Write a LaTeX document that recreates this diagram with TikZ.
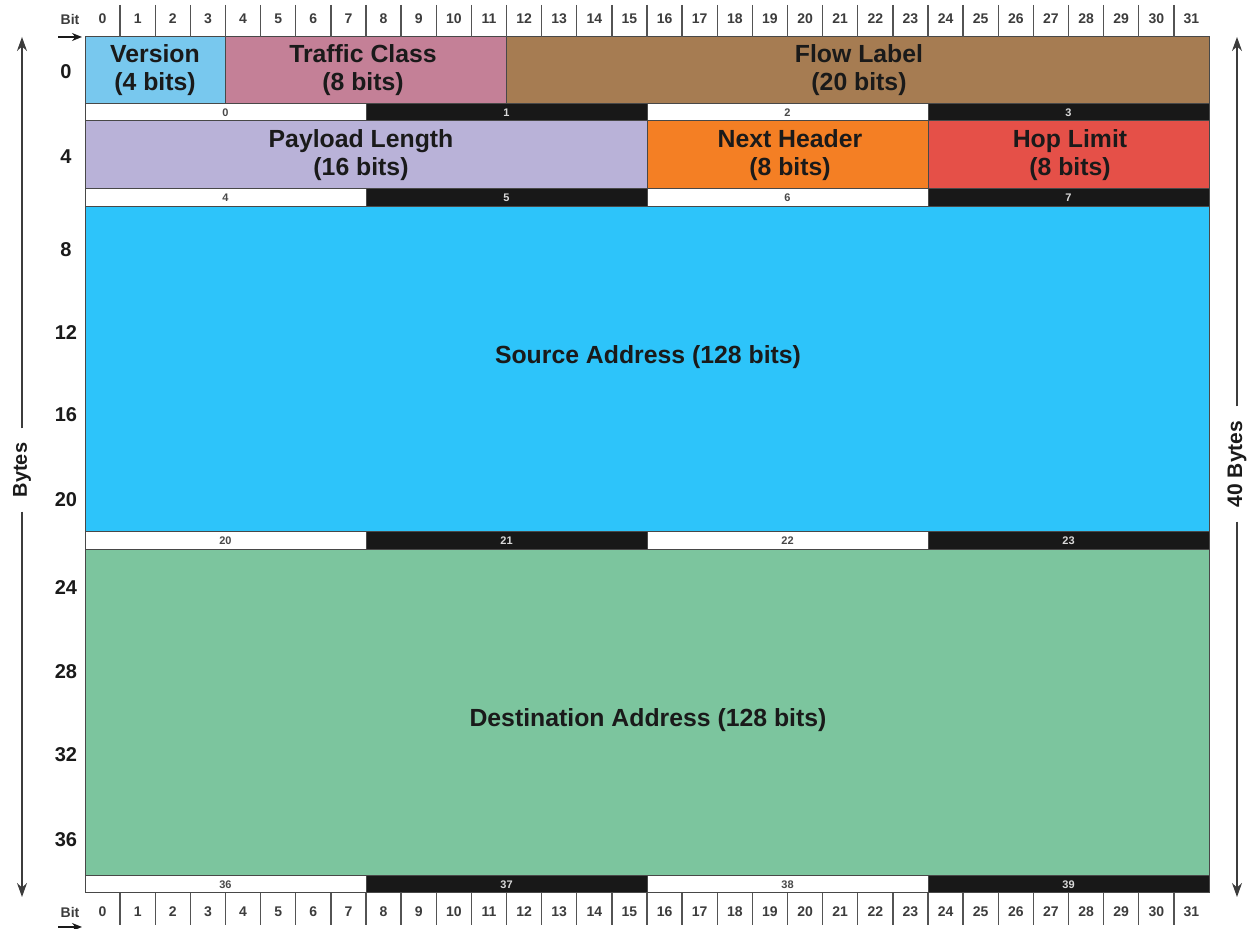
\documentclass[tikz,border=0pt]{standalone}
\usepackage{fontspec}
\setmainfont{Liberation Sans}
\usetikzlibrary{arrows.meta}
\definecolor{cVer}{RGB}{120,200,238}
\definecolor{cTC}{RGB}{196,128,151}
\definecolor{cFL}{RGB}{166,124,82}
\definecolor{cPL}{RGB}{185,178,216}
\definecolor{cNH}{RGB}{244,127,36}
\definecolor{cHL}{RGB}{229,80,72}
\definecolor{cSrc}{RGB}{45,196,250}
\definecolor{cDst}{RGB}{124,197,158}
\definecolor{cInk}{RGB}{26,26,26}
\definecolor{cBar}{RGB}{24,24,24}
\begin{document}
\begin{tikzpicture}[x=0.5pt,y=-0.5pt,
  field/.style={draw=cInk!80, line width=0.5pt},
  ftext/.style={font=\fontsize{12.4}{14}\selectfont\bfseries, text=cInk, align=center, inner sep=0pt},
  bitnum/.style={font=\fontsize{7}{8}\selectfont\bfseries, text=cInk!85, inner sep=0pt},
  tick/.style={draw=cInk!75, line width=0.7pt},
  barwhite/.style={draw=cInk!80, line width=0.5pt, fill=white},
  barblack/.style={draw=cInk!80, line width=0.5pt, fill=cBar},
  barlblw/.style={font=\fontsize{5.5}{6}\selectfont\bfseries, text=cInk!80, inner sep=0pt},
  barlblb/.style={font=\fontsize{5.5}{6}\selectfont\bfseries, text=white!85!black, inner sep=0pt},
  rowlbl/.style={font=\fontsize{10}{12}\selectfont\bfseries, text=cInk, inner sep=0pt},
  side/.style={font=\fontsize{10}{12}\selectfont\bfseries, text=cInk, rotate=90, inner xsep=7pt, inner ysep=2pt},
  sidearrow/.style={draw=cInk!85, line width=0.6pt, -{Stealth[length=7pt,width=5pt]}},
  bitarrow/.style={draw=cInk, line width=0.8pt, -{Stealth[length=5pt,width=4pt]}}
]
\useasboundingbox (0,0) rectangle (1250,929);

% ---- fields
\draw[field, fill=cVer] (85,37) rectangle (225.5,104);
\draw[field, fill=cTC] (225.5,37) rectangle (506.5,104);
\draw[field, fill=cFL] (506.5,37) rectangle (1209,104);
\draw[field, fill=cPL] (85,121) rectangle (647,189);
\draw[field, fill=cNH] (647,121) rectangle (928,189);
\draw[field, fill=cHL] (928,121) rectangle (1209,189);
\draw[field, fill=cSrc] (85,207) rectangle (1209,532);
\draw[field, fill=cDst] (85,550) rectangle (1209,876);

\node[ftext] (version) at (155,70) {Version\\(4 bits)};
\node[ftext] (tclass) at (363,70) {Traffic Class\\(8 bits)};
\node[ftext] (flow) at (859,70) {Flow Label\\(20 bits)};
\node[ftext] (payload) at (361,155) {Payload Length\\(16 bits)};
\node[ftext] (nexthdr) at (790,155) {Next Header\\(8 bits)};
\node[ftext] (hoplim) at (1070,155) {Hop Limit\\(8 bits)};
\node[ftext] (src) at (648,357) {Source Address (128 bits)};
\node[ftext] (dst) at (648,720) {Destination Address (128 bits)};

% ---- byte bars
\foreach \yt/\yb/\b in {104/121/0,189/207/4,532/550/20,876/893/36}{
  \foreach \k in {0,1,2,3}{
    \pgfmathtruncatemacro\n{\b+\k}
    \ifodd\k\relax
      \draw[barblack] ({85+\k*281},\yt) rectangle ({85+(\k+1)*281},\yb);
      \node[barlblb] (byte\n) at ({85+(\k+0.5)*281},{(\yt+\yb)/2}) {\n};
    \else
      \draw[barwhite] ({85+\k*281},\yt) rectangle ({85+(\k+1)*281},\yb);
      \node[barlblw] (byte\n) at ({85+(\k+0.5)*281},{(\yt+\yb)/2}) {\n};
    \fi
  }
}

% ---- bit rulers
\foreach \i in {1,...,31}{
  \draw[tick] ({85+\i*35.125},5) -- ({85+\i*35.125},37);
  \draw[tick] ({85+\i*35.125},893) -- ({85+\i*35.125},925);
}
\foreach \i in {0,...,31}{
  \node[bitnum] (tb\i) at ({85+(\i+0.5)*35.125},19) {\i};
  \node[bitnum] (bb\i) at ({85+(\i+0.5)*35.125},912) {\i};
}
\node[bitnum] (bitT) at (70,19) {Bit};
\node[bitnum] (bitB) at (70,912) {Bit};
\coordinate (taS) at (58,37); \coordinate (taE) at (82,37);
\coordinate (baS) at (58,927); \coordinate (baE) at (82,927);
\draw[bitarrow] (taS) -- (taE);
\draw[bitarrow] (baS) -- (baE);

% ---- row labels
\foreach \v/\y in {0/72,4/157,8/250,12/333,16/415,20/500,24/588,28/672,32/755,36/840}{
  \node[rowlbl] (row\v) at (66,\y) {\v};
}

% ---- side arrows
\node[side] (bytesL) at (22,470) {Bytes};
\coordinate (lt) at (22,37); \coordinate (lb) at (22,897);
\draw[sidearrow] (bytesL) -- (lt);
\draw[sidearrow] (bytesL) -- (lb);

\node[side, font=\fontsize{10.5}{12}\selectfont\bfseries] (bytesR) at (1237,464) {40 Bytes};
\coordinate (rt) at (1237,37); \coordinate (rb) at (1237,897);
\draw[sidearrow] (bytesR) -- (rt);
\draw[sidearrow] (bytesR) -- (rb);
\end{tikzpicture}
\end{document}
